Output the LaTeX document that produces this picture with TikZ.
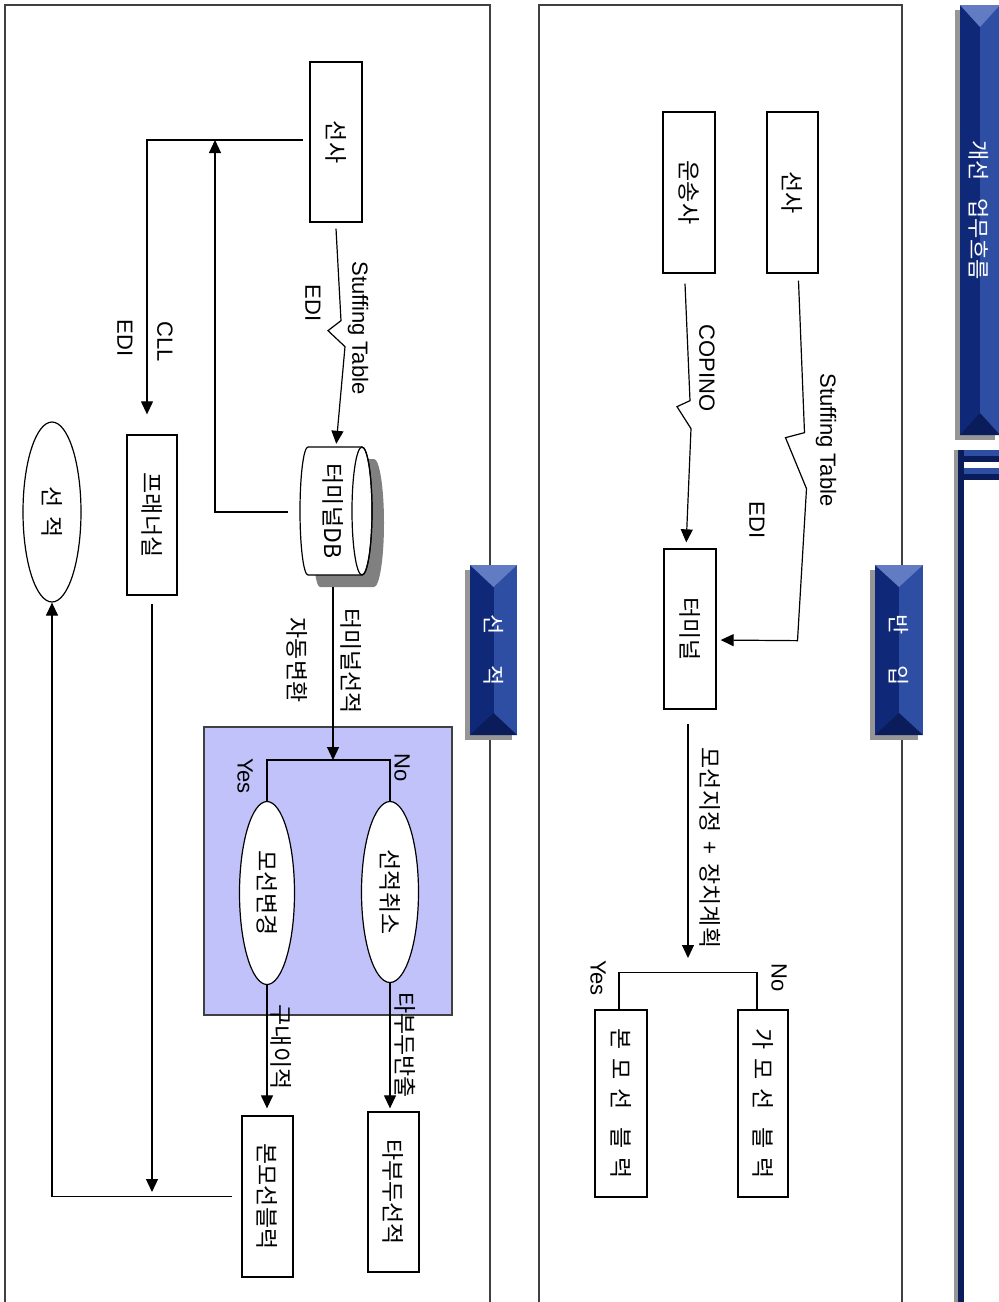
\documentclass[tikz,border=0pt]{standalone}
\usepackage{fontspec}
\usepackage{graphicx}
\setmainfont{Liberation Sans}
\newfontfamily\kr{Noto Sans CJK KR}
\usetikzlibrary{arrows.meta,calc,shapes.geometric}
\definecolor{navyA}{RGB}{16,40,120}
\definecolor{navyB}{RGB}{45,78,163}
\definecolor{navyL}{RGB}{98,124,196}
\definecolor{navyD}{RGB}{10,28,90}
\definecolor{lav}{RGB}{194,194,250}
\definecolor{shad}{RGB}{150,150,150}
\newcommand\vt[1]{\rotatebox{-90}{#1}}
\newcommand\gp{\hspace{0.38em}}
\newcommand\mybadge[4]{%
 \fill[shad] (#1-5,#3+5) rectangle (#2-5,#4+5);
 \fill[navyA] (#1,#3) rectangle ({(#1+#2)/2},#4);
 \fill[navyB] ({(#1+#2)/2},#3) rectangle (#2,#4);
 \fill[navyL] (#1,#3) -- (#2,#3) -- ({(#1+#2)/2},#3+22) -- cycle;
 \fill[navyD] (#1,#4) -- (#2,#4) -- ({(#1+#2)/2},#4-22) -- cycle;
}
\tikzset{
 box/.style={draw, line width=1.3pt, fill=white, inner sep=0pt, font=\kr\fontsize{23}{26}\selectfont},
 oval/.style={ellipse, draw, line width=1.2pt, fill=white, inner sep=0pt, font=\kr\fontsize{23}{26}\selectfont},
 lbl/.style={rotate=-90, inner sep=0pt, font=\fontsize{22}{26}\selectfont, align=center},
 klbl/.style={rotate=-90, inner sep=0pt, font=\kr\fontsize{23}{26}\selectfont},
 conn/.style={line width=1.2pt},
 arr/.style={conn, -{Triangle[length=13pt,width=12pt]}},
 panel/.style={line width=1.8pt, draw=black!75},
 badgetxt/.style={rotate=-90, text=white, inner sep=0pt, font=\kr\fontsize{22}{24}\selectfont}
}
\begin{document}
\begin{tikzpicture}[x=1pt,y=-1pt]
\useasboundingbox (0,0) rectangle (999,1302);
\clip (0,0) rectangle (999,1302);
% panels
\draw[panel] (5,1310) -- (5,5) -- (490,5) -- (490,1310);
\draw[panel] (539,1310) -- (539,5) -- (902,5) -- (902,1310);
% right header
\mybadge{960}{1000}{5}{435}
\node[badgetxt, font=\kr\fontsize{22}{24}\selectfont] (hdr) at (979,210) {개선\hspace{0.8em}업무흐름};
\fill[shad] (954,450) rectangle (958,1302);
\fill[navyD] (958,450) rectangle (964,1302);
\fill[navyB] (964,450) rectangle (1000,456);
\fill[navyD] (964,456) rectangle (1000,462);
\fill[navyB] (964,468) rectangle (1000,474);
\fill[navyD] (964,474) rectangle (1000,480);
% section badges
\mybadge{470}{517}{565}{735}
\node[badgetxt] (t1) at (493.5,650) {선\hspace{1.4em}적};
\mybadge{875}{923}{565}{735}
\node[badgetxt] (t2) at (899,650) {반\hspace{1.4em}입};

% ---------- left panel ----------
\node[box, minimum width=52pt, minimum height=160pt] (sA) at (336,142) {\vt{선사}};
\node[box, minimum width=50pt, minimum height=160pt] (pl) at (152,515) {\vt{프래너실}};
\node[oval, minimum width=58pt, minimum height=180pt] (sj) at (52,512) {\vt{선\gp 적}};
% cylinder
\node[inner sep=0pt, minimum width=72pt, minimum height=128pt] (db) at (336,511) {};
\fill[black!50] (320,459) -- (374,459) arc[start angle=-90, end angle=90, x radius=10, y radius=64]
  -- (320,587) arc[start angle=90, end angle=270, x radius=8, y radius=64] -- cycle;
\draw[line width=1.2pt, fill=white] (308,447) -- (362,447) arc[start angle=-90, end angle=90, x radius=10, y radius=64]
  -- (308,575) arc[start angle=90, end angle=270, x radius=8, y radius=64] -- cycle;
\draw[line width=1.2pt] (362,511) ellipse[x radius=10, y radius=64];
\node[font=\kr\fontsize{23}{26}\selectfont, inner sep=0pt] (dbt) at (333,511) {\vt{터미널DB}};
% group box
\node[draw=black!75, line width=1.5pt, fill=lav, minimum width=248pt, minimum height=288pt, inner sep=0pt] (grp) at (328,871) {};
\node[oval, minimum width=55pt, minimum height=183pt] (e1) at (267,893) {\vt{모선변경}};
\node[oval, minimum width=57pt, minimum height=181pt] (e2) at (390,892) {\vt{선적취소}};
\node[box, minimum width=51pt, minimum height=161pt] (b1) at (267.5,1196.5) {\vt{본모선블럭}};
\node[box, minimum width=51pt, minimum height=160pt] (b2) at (393.5,1192) {\vt{타부두선적}};
\coordinate (j1) at (215,140);
\coordinate (j2) at (152,1192);
\coordinate (br1) at (333,760);
% connectors
\draw[arr, shorten >=3pt] ($(sA.south)+(0,6)$) -- ++(5,92) -- ++(-13,10) -- ++(17,16) -- (db.north);
\draw[arr] ($(sA.west)+(-6,-2)$) -| ($(pl.north)+(-5,-20)$);
\draw[arr] ($(db.west)+(-12,1)$) -| (j1);
\draw[arr] ($(pl.south)+(0,8)$) -- (j2);
\draw[arr] ($(b1.west)+(-9,0)$) -| (sj.south);
\draw[arr] ($(db.south)+(-3,12)$) -- (br1);
\draw[conn] (e1.north) |- (br1) -| (e2.north);
\draw[arr, shorten >=7pt] (e1.south) -- (e1.south |- b1.north);
\draw[arr, shorten >=3pt] (e2.south) -- (e2.south |- b2.north);
% labels
\node[lbl] (l1) at (358,328) {Stuffing Table};
\node[lbl] (l2) at (313,303) {EDI};
\node[lbl] (l3) at (165,342) {CLL};
\node[lbl] (l4) at (125,338) {EDI};
\node[klbl] (l5) at (351,661) {터미널선적};
\node[klbl] (l6) at (297,660) {자동변환};
\node[lbl] (l7) at (402,768) {No};
\node[lbl] (l8) at (245,776) {Yes};
\node[klbl] (l9) at (281,1047) {구내이적};
\node[klbl] (l10) at (405,1045) {타부두반출};

% ---------- middle panel ----------
\node[box, minimum width=51pt, minimum height=161pt] (mA) at (792.5,192.5) {\vt{선사}};
\node[box, minimum width=52pt, minimum height=161pt] (mB) at (689,192.5) {\vt{운송사}};
\node[box, minimum width=52pt, minimum height=160pt] (tm) at (690,629) {\vt{터미널}};
\node[box, minimum width=52pt, minimum height=187pt] (g1) at (621,1103.5) {\vt{본\gp 모\gp 선\gp\gp 블\gp 럭}};
\node[box, minimum width=50pt, minimum height=187pt] (g2) at (763,1103.5) {\vt{가\gp 모\gp 선\gp\gp 블\gp 럭}};
\coordinate (br2) at (688,958);
\draw[arr, shorten >=4pt] ($(mA.south)+(6,7)$) -- ++(6,152) -- ++(-19,5) -- ++(21,51) -- ++(-9,152) -- ($(tm.east)+(0,11)$);
\draw[arr, shorten >=6pt] ($(mB.south)+(-4,10)$) -- ++(5,117) -- ++(-13,6) -- ++(14,22) -- ($(tm.north)+(-4,0)$);
\draw[arr] ($(tm.south)+(-2,14)$) -- (br2);
\draw[conn] ($(g1.north)+(-2,0)$) -- ++(0,-37) -- ($(g2.north)+(-6,-37)$) -- ($(g2.north)+(-6,0)$);
\node[lbl] (m1) at (826,440) {Stuffing Table};
\node[lbl] (m2) at (757,520) {EDI};
\node[lbl] (m3) at (707,368) {COPINO};
\node[klbl] (m4) at (710,848) {모선지정\hspace{0.4em}+\hspace{0.4em}장치계획};
\node[lbl] (m5) at (779,978) {No};
\node[lbl] (m6) at (598,978) {Yes};
\end{tikzpicture}
\end{document}
